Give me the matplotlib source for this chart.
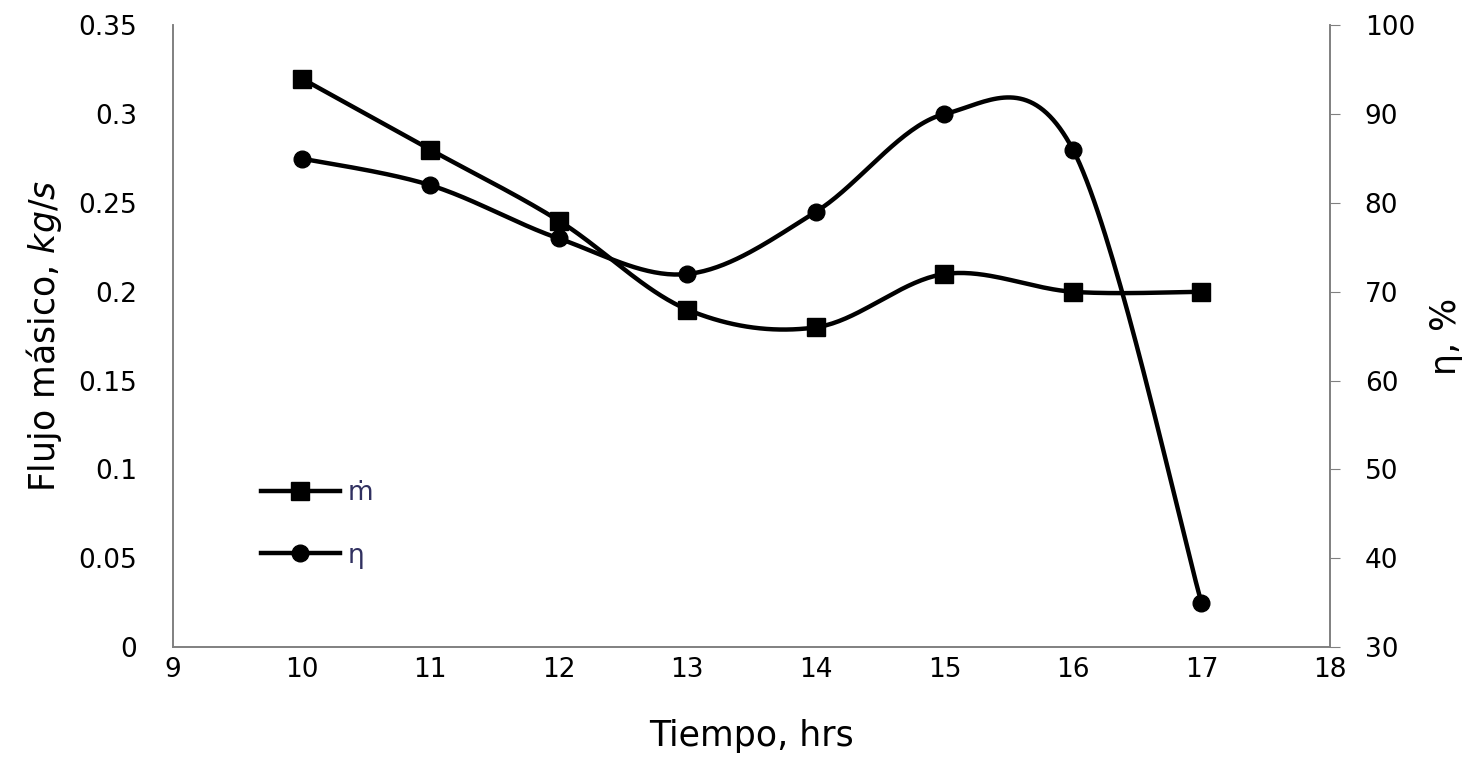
import numpy as np
import matplotlib.pyplot as plt

# data
horas = [10, 11, 12, 13, 14, 15, 16, 17]
flujo = [0.32, 0.28, 0.24, 0.19, 0.18, 0.21, 0.20, 0.20]
eficiencia = [85, 82, 76, 72, 79, 90, 86, 35]


def suave(x, y, n=40):
    # Excel-like smoothed line (Catmull-Rom bezier between points)
    x = np.asarray(x, float)
    y = np.asarray(y, float)
    px = np.concatenate([[x[0]], x, [x[-1]]])
    py = np.concatenate([[y[0]], y, [y[-1]]])
    xs, ys = [], []
    t = np.linspace(0, 1, n)
    for i in range(1, len(px) - 2):
        p0 = np.array([px[i], py[i]])
        p3 = np.array([px[i + 1], py[i + 1]])
        p1 = p0 + (np.array([px[i + 1], py[i + 1]]) - np.array([px[i - 1], py[i - 1]])) / 6
        p2 = p3 - (np.array([px[i + 2], py[i + 2]]) - np.array([px[i], py[i]])) / 6
        b = ((1 - t) ** 3)[:, None] * p0 + (3 * (1 - t) ** 2 * t)[:, None] * p1 \
            + (3 * (1 - t) * t ** 2)[:, None] * p2 + (t ** 3)[:, None] * p3
        xs.extend(b[:, 0])
        ys.extend(b[:, 1])
    return xs, ys


plt.rcParams['font.family'] = 'DejaVu Sans'
fig, ax = plt.subplots(figsize=(14.68, 7.65), dpi=100)
fig.subplots_adjust(left=0.118, right=0.906, top=0.967, bottom=0.154)
ax2 = ax.twinx()

sx, sy = suave(horas, flujo)
ax.plot(sx, sy, color='black', lw=3.2)
ax.plot(horas, flujo, 's', color='black', ms=13)

ex, ey = suave(horas, eficiencia)
ax2.plot(ex, ey, color='black', lw=3.2)
ax2.plot(horas, eficiencia, 'o', color='black', ms=12)

# legend handles
ax.plot([], [], '-s', color='black', lw=3.2, ms=13, label='ṁ')
ax.plot([], [], '-o', color='black', lw=3.2, ms=12, label='η')
leg = ax.legend(loc='lower left', bbox_to_anchor=(0.055, 0.088), frameon=False,
                handlelength=3.0, handletextpad=0.3, labelspacing=1.4,
                fontsize=19, labelcolor='#303060')

ax.set_xlim(9, 18)
ax.set_ylim(0, 0.35)
ax2.set_ylim(30, 100)
ax.set_xticks(range(9, 19))
ax.set_yticks(np.arange(0, 0.351, 0.05))
ax.set_yticklabels(['0', '0.05', '0.1', '0.15', '0.2', '0.25', '0.3', '0.35'])
ax2.set_yticks(range(30, 101, 10))

ax.tick_params(axis='y', length=0, labelsize=19, pad=26)
ax.tick_params(axis='x', length=0, labelsize=19, pad=7)
ax2.tick_params(axis='y', length=7, color='gray', labelsize=19, pad=18)

for s in ['top']:
    ax.spines[s].set_visible(False)
    ax2.spines[s].set_visible(False)
for a in (ax, ax2):
    for s in ['left', 'right', 'bottom']:
        a.spines[s].set_color('gray')
        a.spines[s].set_linewidth(1.2)

ax.set_xlabel('Tiempo, hrs', fontsize=25, labelpad=26)
ax.set_ylabel('Flujo másico, $\\it{kg/s}$', fontsize=25, labelpad=10)
ax2.set_ylabel('η, %', fontsize=25, labelpad=10)

plt.savefig('out.png')
